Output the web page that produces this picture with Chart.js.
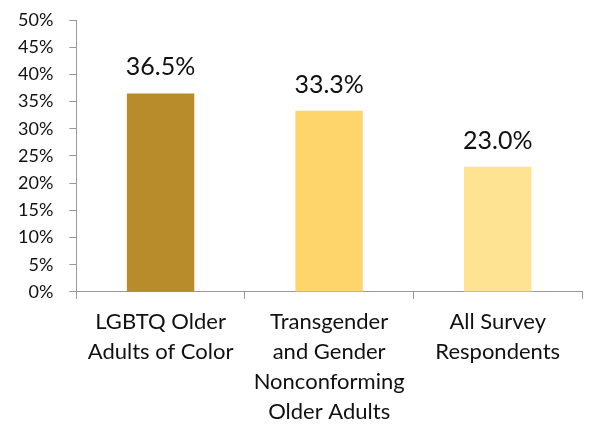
<!DOCTYPE html>
<html>
<head>
<meta charset="utf-8">
<script src="https://cdn.jsdelivr.net/npm/chart.js@4.4.1/dist/chart.umd.min.js"></script>
<style>
  html, body { margin: 0; padding: 0; background: #fff; }
  #wrap { width: 593px; height: 428px; position: relative; }
</style>
</head>
<body>
<div id="wrap"><canvas id="c"></canvas></div>
<script>
const categories = [
  ["LGBTQ Older", "Adults of Color"],
  ["Transgender", "and Gender", "Nonconforming", "Older Adults"],
  ["All Survey", "Respondents"]
];
const values = [36.5, 33.3, 23.0];
const barColors = ["#B88C2A", "#FDD56A", "#FEE393"];
const yTicks = [0, 5, 10, 15, 20, 25, 30, 35, 40, 45, 50];

const FONT = "Lato, 'Noto Sans', sans-serif";

const dataLabels = {
  id: "dataLabels",
  afterDatasetsDraw(chart) {
    const ctx = chart.ctx;
    const meta = chart.getDatasetMeta(0);
    ctx.save();
    ctx.font = "25px " + FONT;
    ctx.fillStyle = "#111";
    ctx.textAlign = "center";
    ctx.textBaseline = "alphabetic";
    meta.data.forEach((bar, i) => {
      ctx.fillText(values[i].toFixed(1) + "%", bar.x, bar.y - 18);
    });
    ctx.restore();
  }
};

new Chart(document.getElementById("c"), {
  type: "bar",
  data: {
    labels: categories,
    datasets: [{
      data: values,
      backgroundColor: barColors,
      borderWidth: 0,
      categoryPercentage: 1,
      barPercentage: 0.4
    }]
  },
  options: {
    responsive: true,
    maintainAspectRatio: false,
    animation: false,
    layout: { padding: { left: 2, right: 11, top: 0, bottom: -7 } },
    plugins: { legend: { display: false }, tooltip: { enabled: false } },
    scales: {
      y: {
        min: 0, max: 50,
        afterBuildTicks(scale) { scale.ticks = yTicks.map(v => ({ value: v })); },
        afterFit(scale) { scale.paddingTop = 20; },
        ticks: {
          callback: v => v + "%",
          font: { family: FONT, size: 18 },
          color: "#111",
          padding: 16
        },
        grid: { drawOnChartArea: false, drawTicks: true, tickLength: 7, color: "#999", lineWidth: 1 },
        border: { display: true, color: "#999", width: 1 }
      },
      x: {
        ticks: {
          font: { family: FONT, size: 22, lineHeight: 1.364 },
          color: "#111",
          padding: 8,
          maxRotation: 0, autoSkip: false
        },
        grid: { drawOnChartArea: false, drawTicks: true, tickLength: 7, color: "#999", offset: true },
        border: { display: true, color: "#999", width: 1 }
      }
    }
  },
  plugins: [dataLabels]
});
</script>
</body>
</html>
